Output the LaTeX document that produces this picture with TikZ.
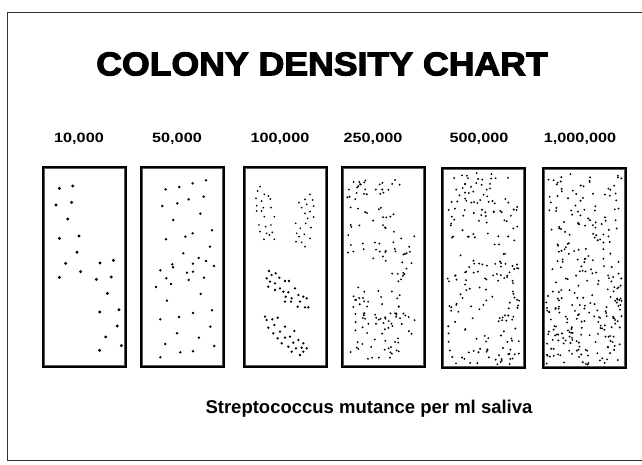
\documentclass[tikz,border=0pt]{standalone}
\usepackage{graphicx}
\usepackage{fontspec}
\setmainfont{Liberation Sans}
\newfontfamily\titlefont[FakeBold=3]{Liberation Sans Bold}
\usetikzlibrary{positioning}

% random dots in a box: x, y, width, height, count
\newcommand{\dotpatch}[5]{%
  \foreach \k in {1,...,#5}
    \fill ({#1+(#3)*rnd},{#2+(#4)*rnd}) circle (1.05pt);
}

\begin{document}
\begin{tikzpicture}[
    x=1pt, y=-1pt,
    title/.style={font=\titlefont\fontsize{33}{33}\selectfont},
    count/.style={font=\bfseries\fontsize{13.5}{14}\selectfont},
    caption/.style={font=\bfseries\fontsize{18.5}{19}\selectfont},
    panel/.style={
        draw,
        line width=2pt,
        minimum width=83pt,
        minimum height=200pt,
        inner sep=0pt
    },
    inner/.style={draw=black!65, line width=0.7pt}
]
\useasboundingbox (0,0) rectangle (642,464);
\fill[white] (0,0) rectangle (642,464);

% outer frame
\draw[line width=0.8pt, black!80] (650,12) -- (7,12) -- (7,460) -- (650,460);

\node[title] (title) at (322,64) {\scalebox{1.08}[1]{COLONY DENSITY CHART}};

% panels
\node[panel] (p1) at (84.5,266.5) {};
\node[panel] (p2) at (182,266.5) {};
\node[panel] (p3) at (285.5,266.5) {};
\node[panel] (p4) at (383,267) {};
\node[panel] (p5) at (483.5,268) {};
\node[panel] (p6) at (584,267.5) {};
\foreach \p in {p1,p2,p3,p4,p5,p6}
    \draw[inner] ([shift={(2.5,2.5)}]\p.north west) rectangle ([shift={(-2.5,-2.5)}]\p.south east);

% counts
\node[count] (c1) at (79,139) {\scalebox{1.2}[1]{10,000}};
\node[count] (c2) at (177,139) {\scalebox{1.2}[1]{50,000}};
\node[count] (c3) at (280,139) {\scalebox{1.2}[1]{100,000}};
\node[count] (c4) at (373,139) {\scalebox{1.2}[1]{250,000}};
\node[count] (c5) at (479,139) {\scalebox{1.2}[1]{500,000}};
\node[count] (c6) at (580,139) {\scalebox{1.2}[1]{1,000,000}};

\node[caption] (cap) at (369,409) {Streptococcus mutance per ml saliva};

% 10,000 and 50,000
\begin{scope}[shift={(30,155)}, x=0.3333pt, y=-0.3333pt]
  \foreach \a/\b in {88/100,128/93,78/150,125/142,113/192,88/250,147/243,141/292,
      107/325,152/350,88/367,210/324,250/316,199/373,244/366,232/415,209/471,
      267/464,262/513,227/546,274/572,209/586}
    \fill (\a,\b) circle (1.6pt);
  \foreach \a/\b in {407/103,448/96,488/85,528/76,397/153,442/145,476/133,521/125,
      430/195,511/176,408/253,466/245,488/235,546/226,540/275,460/295,506/309,
      528/318,427/328,429/337,489/326,552/333,391/346,471/353,489/350,409/370,
      476/375,522/368,423/387,378/396,512/417,411/437,546/466,489/474,447/486,
      391/493,541/515,441/535,507/548,406/567,553/573,489/589,451/592,391/607}
    \fill (\a,\b) circle (1.35pt);
\end{scope}

% 100,000
\begin{scope}[shift={(235,155)}, x=0.3333pt, y=-0.3333pt]
  \foreach \a/\b in {75/95,68/108,88/118,100/123,63/130,80/138,106/132,65/152,
      85/158,108/158,65/168,80/168,88/185,118/185,72/210,92/215,108/210,75/230,
      95/235,112/232,87/253,103/240,118/253,
      225/118,210/133,233/135,192/143,215/148,200/158,236/153,225/170,210/175,
      236/186,218/190,182/205,212/205,196/220,228/218,185/235,208/238,192/245,
      225/250,183/260,200/262,210/275}
    \fill (\a,\b) circle (0.95pt);
  \foreach \a/\b in {102/348,110/360,122/355,95/370,133/368,105/380,120/385,
      150/378,162/378,100/395,135/400,120/405,145/410,180/400,160/412,152/425,
      170/430,190/420,205/425,150/440,168/440,195/440,215/430,188/455,210/457,
      220/457,
      90/485,95/495,112/493,128/488,100/518,118/510,150/515,115/535,135/530,
      178/528,128/550,150/548,165/545,190/555,140/565,175/563,205/565,160/575,
      183/580,200/578,215/580,170/590,205/590,195/600}
    \fill (\a,\b) circle (1.3pt);
\end{scope}

% 250,000
\pgfmathsetseed{11}
\dotpatch{347}{179}{56}{22}{26}
\dotpatch{350}{207}{45}{26}{18}
\dotpatch{347}{235}{68}{28}{26}
\dotpatch{392}{263}{22}{25}{9}
\dotpatch{353}{287}{50}{20}{20}
\dotpatch{353}{313}{70}{21}{38}
\dotpatch{347}{338}{56}{21}{22}

% 500,000
\dotpatch{447}{173}{71}{72}{80}
\dotpatch{447}{253}{75}{49}{55}
\dotpatch{448}{302}{42}{40}{20}
\dotpatch{498}{302}{22}{40}{20}
\dotpatch{448}{347}{72}{18}{30}

% 1,000,000
\dotpatch{546}{173}{76}{115}{130}
\dotpatch{546}{288}{76}{77}{150}

\end{tikzpicture}
\end{document}
